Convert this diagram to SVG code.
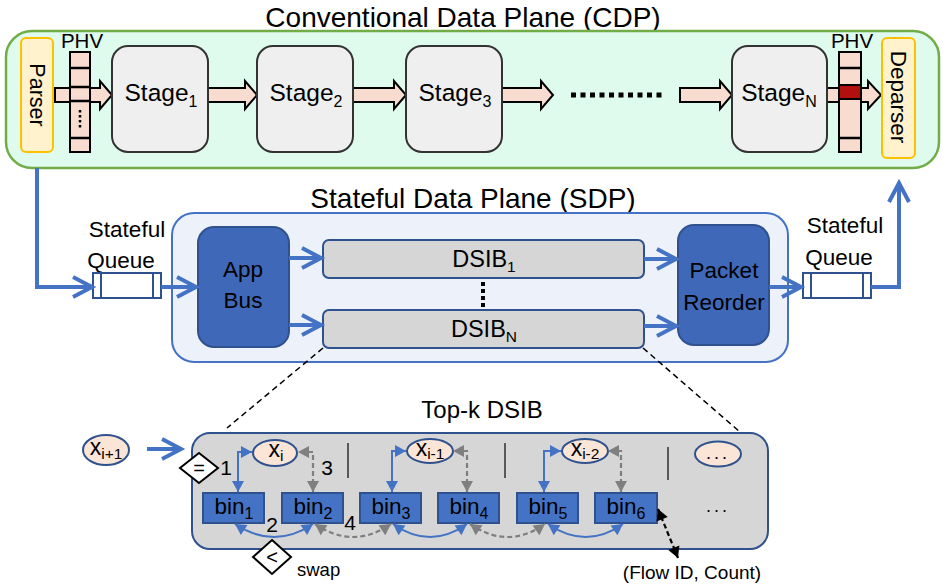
<svg xmlns="http://www.w3.org/2000/svg" width="950" height="586" viewBox="0 0 950 586">
<defs>
<style>
text{font-family:"Liberation Sans",Arial,sans-serif;fill:#000}
.title{font-size:28px;text-anchor:middle}
.stage{fill:#efefef;stroke:#333;stroke-width:2}
.stt{font-size:24.5px;text-anchor:middle}
.blk{fill:#f8dccf;stroke:#000;stroke-width:2;stroke-linejoin:miter}
.phv{fill:#f8dccf;stroke:#000;stroke-width:2}
.cell{stroke:#000;stroke-width:2.5}
.pars{fill:#fff2cc;stroke:#ffc000;stroke-width:2}
.big{fill:none;stroke:#4472c4;stroke-width:4}
.dark{fill:#4068b8;stroke:#2f528f;stroke-width:2}
.dsib{fill:#d6d6d6;stroke:#2f528f;stroke-width:2}
.queue{fill:#fff;stroke:#2f528f;stroke-width:2}
.lbl{font-size:22.5px;text-anchor:middle}
.bin{fill:#4472c4;stroke:#2f528f;stroke-width:2}
.ell{fill:#fbe5d6;stroke:#2f528f;stroke-width:2}
.bl{fill:none;stroke:#4472c4;stroke-width:2}
.gr{fill:none;stroke:#7f7f7f;stroke-width:2.2;stroke-dasharray:5 3}
.bk{fill:none;stroke:#000;stroke-width:2.2;stroke-dasharray:5 3}
.sep{stroke:#595959;stroke-width:2}
.dia{fill:#fff;stroke:#000;stroke-width:2}
.num{font-size:21px;text-anchor:middle}
.zoom{stroke:#000;stroke-width:1.5;stroke-dasharray:6 4;fill:none}
.bt{font-size:22.5px;text-anchor:middle}
.xt{font-size:23px;text-anchor:middle}
</style>
<marker id="chev" markerUnits="userSpaceOnUse" viewBox="-26 -14 30 28" refX="0" refY="0" markerWidth="30" markerHeight="28" orient="auto" overflow="visible">
<path d="M-19,-10 L0,0 L-19,10" fill="none" stroke="#4472c4" stroke-width="4"/>
</marker>
<marker id="tb" markerUnits="userSpaceOnUse" viewBox="-12 -7 14 14" refX="0" refY="0" markerWidth="14" markerHeight="14" orient="auto-start-reverse" overflow="visible">
<path d="M-11,-6 L0,0 L-11,6 Z" fill="#4472c4"/>
</marker>
<marker id="tg" markerUnits="userSpaceOnUse" viewBox="-12 -7 14 14" refX="0" refY="0" markerWidth="14" markerHeight="14" orient="auto-start-reverse" overflow="visible">
<path d="M-11,-6 L0,0 L-11,6 Z" fill="#7f7f7f"/>
</marker>
<marker id="tk" markerUnits="userSpaceOnUse" viewBox="-12 -7 14 14" refX="0" refY="0" markerWidth="14" markerHeight="14" orient="auto-start-reverse" overflow="visible">
<path d="M-11,-6 L0,0 L-11,6 Z" fill="#000"/>
</marker>
</defs>
<rect width="950" height="586" fill="#fff"/>

<!-- CDP -->
<g id="cdp">
<text class="title" x="463" y="27">Conventional Data Plane (CDP)</text>
<rect x="6" y="31" width="933" height="137" rx="26" fill="#dffbee" stroke="#70ad47" stroke-width="2.5"/>
</g>
<g id="parser">
<rect class="pars" x="21" y="38" width="32" height="114" rx="5"/>
<text transform="translate(37,95) rotate(90)" x="0" y="7.5" font-size="21.5" text-anchor="middle">Parser</text>
</g>
<g id="cdp-arrows">
<path class="blk" d="M55,88 H100 V81 L112,95 L100,109 V102 H55 Z"/>
<path class="blk" d="M208,88 H245 V81 L257,95 L245,109 V102 H208 Z"/>
<path class="blk" d="M353,88 H394 V81 L406,95 L394,109 V102 H353 Z"/>
<path class="blk" d="M502,88 H541 V81 L553,95 L541,109 V102 H502 Z"/>
<path class="blk" d="M680,88 H720 V81 L732,95 L720,109 V102 H680 Z"/>
<path class="blk" d="M827,88 H868 V81 L881,95 L868,109 V102 H827 Z"/>
<line x1="571" y1="95" x2="662" y2="95" stroke="#000" stroke-width="5" stroke-dasharray="5 4.5"/>
</g>
<g id="phv-in">
<text x="82" y="48" font-size="20.5" text-anchor="middle">PHV</text>
<rect class="phv" x="70" y="52" width="20" height="100"/>
<line class="cell" x1="70" y1="68" x2="90" y2="68"/>
<line class="cell" x1="70" y1="87" x2="90" y2="87"/>
<line class="cell" x1="70" y1="101" x2="90" y2="101"/>
<line class="cell" x1="70" y1="138" x2="90" y2="138"/>
<line x1="80" y1="110" x2="80" y2="130" stroke="#000" stroke-width="2.5" stroke-dasharray="2.5 2.5"/>
</g>
<g id="stage1">
<rect class="stage" x="112" y="46" width="96" height="106" rx="16"/>
<text class="stt" x="161" y="101">Stage<tspan font-size="16" dy="6">1</tspan></text>
</g>
<g id="stage2">
<rect class="stage" x="257" y="46" width="96" height="106" rx="16"/>
<text class="stt" x="306" y="101">Stage<tspan font-size="16" dy="6">2</tspan></text>
</g>
<g id="stage3">
<rect class="stage" x="406" y="46" width="96" height="106" rx="16"/>
<text class="stt" x="455" y="101">Stage<tspan font-size="16" dy="6">3</tspan></text>
</g>
<g id="stageN">
<rect class="stage" x="732" y="46" width="95" height="106" rx="16"/>
<text class="stt" x="779" y="101">Stage<tspan font-size="16" dy="6">N</tspan></text>
</g>
<g id="phv-out">
<text x="852" y="48" font-size="20.5" text-anchor="middle">PHV</text>
<rect class="phv" x="839" y="52" width="22" height="100"/>
<line class="cell" x1="839" y1="68" x2="861" y2="68"/>
<line class="cell" x1="839" y1="138" x2="861" y2="138"/>
<rect x="839" y="85" width="22" height="14" fill="#b30f0f" stroke="#000" stroke-width="2"/>
</g>
<g id="deparser">
<rect class="pars" x="882" y="38" width="33" height="120" rx="5"/>
<text transform="translate(898.5,97) rotate(90)" x="0" y="8" font-size="22.5" text-anchor="middle">Deparser</text>
</g>

<!-- SDP -->
<g id="sdp">
<text class="title" x="473" y="208">Stateful Data Plane (SDP)</text>
<rect x="172" y="213" width="616" height="149" rx="22" fill="#edf1f9" stroke="#4472c4" stroke-width="2"/>
</g>
<g id="queue-in">
<text class="lbl" x="127" y="237">Stateful</text>
<text class="lbl" x="121" y="268">Queue</text>
<rect class="queue" x="93" y="273" width="68" height="25"/>
<line x1="101" y1="273" x2="101" y2="298" stroke="#2f528f" stroke-width="2"/>
<line x1="153" y1="273" x2="153" y2="298" stroke="#2f528f" stroke-width="2"/>
</g>
<g id="appbus">
<rect class="dark" x="198" y="227" width="91" height="120" rx="16"/>
<text class="lbl" x="243" y="277">App</text>
<text class="lbl" x="243" y="308">Bus</text>
</g>
<g id="dsib1">
<rect class="dsib" x="323" y="240" width="321" height="38" rx="6"/>
<text x="484" y="267" font-size="23.5" text-anchor="middle">DSIB<tspan font-size="15.5" dy="5">1</tspan></text>
</g>
<g id="dsibN">
<rect class="dsib" x="323" y="310" width="321" height="38" rx="6"/>
<text x="484" y="337" font-size="23.5" text-anchor="middle">DSIB<tspan font-size="15.5" dy="5">N</tspan></text>
</g>
<line x1="483" y1="282" x2="483" y2="308" stroke="#000" stroke-width="4" stroke-dasharray="4 3"/>
<g id="reorder">
<rect class="dark" x="678" y="225" width="91" height="120" rx="16"/>
<text class="lbl" x="724" y="278">Packet</text>
<text class="lbl" x="724" y="310">Reorder</text>
</g>
<g id="queue-out">
<text class="lbl" x="845" y="233">Stateful</text>
<text class="lbl" x="839" y="265">Queue</text>
<rect class="queue" x="803" y="273" width="68" height="25"/>
<line x1="811" y1="273" x2="811" y2="298" stroke="#2f528f" stroke-width="2"/>
<line x1="863" y1="273" x2="863" y2="298" stroke="#2f528f" stroke-width="2"/>
</g>

<!-- Top-k DSIB -->
<g id="topk">
<text x="482" y="418" font-size="24" text-anchor="middle">Top-k DSIB</text>
<rect x="192" y="433" width="576" height="116" rx="18" fill="#d6d6d6" stroke="#2f528f" stroke-width="2"/>
<line class="sep" x1="348" y1="443" x2="348" y2="478"/>
<line class="sep" x1="505" y1="443" x2="505" y2="478"/>
<line class="sep" x1="668" y1="447" x2="668" y2="480"/>
<text x="718" y="512" font-size="18" text-anchor="middle" letter-spacing="3">...</text>
</g>
<g id="xi1">
<ellipse class="ell" cx="106" cy="450" rx="23" ry="15"/>
<text class="xt" x="106" y="455">x<tspan font-size="15.5" dy="4">i+1</tspan></text>
</g>
<g id="xi">
<ellipse class="ell" cx="275" cy="453" rx="22" ry="13"/>
<text class="xt" x="276" y="457">x<tspan font-size="15.5" dy="4">i</tspan></text>
</g>
<g id="xim1">
<ellipse class="ell" cx="430" cy="451" rx="23" ry="12"/>
<text class="xt" x="430" y="456">x<tspan font-size="15.5" dy="3">i-1</tspan></text>
</g>
<g id="xim2">
<ellipse class="ell" cx="585" cy="451" rx="23" ry="12"/>
<text class="xt" x="585" y="456">x<tspan font-size="15.5" dy="3">i-2</tspan></text>
</g>
<g id="xmore">
<ellipse class="ell" cx="718" cy="454" rx="23" ry="12.5"/>
<text x="718" y="459" font-size="18" text-anchor="middle" letter-spacing="3">...</text>
</g>
<g id="bin1"><rect class="bin" x="203" y="493" width="61" height="30"/><text class="bt" x="234" y="514">bin<tspan font-size="16" dy="5">1</tspan></text></g>
<g id="bin2"><rect class="bin" x="282" y="493" width="61" height="30"/><text class="bt" x="313" y="514">bin<tspan font-size="16" dy="5">2</tspan></text></g>
<g id="bin3"><rect class="bin" x="360" y="493" width="61" height="30"/><text class="bt" x="391" y="514">bin<tspan font-size="16" dy="5">3</tspan></text></g>
<g id="bin4"><rect class="bin" x="438" y="493" width="61" height="30"/><text class="bt" x="469" y="514">bin<tspan font-size="16" dy="5">4</tspan></text></g>
<g id="bin5"><rect class="bin" x="517" y="493" width="61" height="30"/><text class="bt" x="548" y="514">bin<tspan font-size="16" dy="5">5</tspan></text></g>
<g id="bin6"><rect class="bin" x="595" y="493" width="62" height="30"/><text class="bt" x="626" y="514">bin<tspan font-size="16" dy="5">6</tspan></text></g>
<g id="eq">
<path class="dia" d="M199,453 L218,468 L199,483 L180,468 Z"/>
<text x="199" y="475" font-size="20" text-anchor="middle">=</text>
</g>
<g id="lt">
<path class="dia" d="M272,540 L291,557 L272,574 L253,557 Z"/>
<text x="272" y="564" font-size="20" text-anchor="middle">&lt;</text>
</g>
<text x="297" y="576" font-size="18.5">swap</text>
<text x="692" y="579" font-size="19" text-anchor="middle">(Flow ID, Count)</text>
<text class="num" x="226" y="475">1</text>
<text class="num" x="272" y="532">2</text>
<text class="num" x="327" y="475">3</text>
<text class="num" x="350" y="530">4</text>

<!-- connectors -->
<g id="connectors">
<path class="big" d="M37,168 V287 H92" marker-end="url(#chev)"/>
<path class="big" d="M161,287 H196" marker-end="url(#chev)"/>
<path class="big" d="M289,258 H321" marker-end="url(#chev)"/>
<path class="big" d="M289,325 H321" marker-end="url(#chev)"/>
<path class="big" d="M644,259 H676" marker-end="url(#chev)"/>
<path class="big" d="M644,326 H676" marker-end="url(#chev)"/>
<path class="big" d="M769,287 H801" marker-end="url(#chev)"/>
<path class="big" d="M871,287 H899 V183" marker-end="url(#chev)"/>
<path class="big" d="M147,449 H181" marker-end="url(#chev)"/>
<line class="zoom" x1="323" y1="348" x2="227" y2="428"/>
<line class="zoom" x1="643" y1="348" x2="740" y2="432"/>
<path class="bl" d="M238,492 V452 H252" marker-start="url(#tb)" marker-end="url(#tb)"/>
<path class="gr" d="M313,492 V452 H298" marker-start="url(#tg)" marker-end="url(#tg)"/>
<path class="bl" d="M392,492 V451 H406" marker-start="url(#tb)" marker-end="url(#tb)"/>
<path class="gr" d="M467,492 V451 H453" marker-start="url(#tg)" marker-end="url(#tg)"/>
<path class="bl" d="M544,492 V451 H561" marker-start="url(#tb)" marker-end="url(#tb)"/>
<path class="gr" d="M621,492 V451 H608" marker-start="url(#tg)" marker-end="url(#tg)"/>
<path class="bl" d="M235,524 Q274,550 313,524" marker-start="url(#tb)" marker-end="url(#tb)"/>
<path class="gr" d="M315,524 Q353,550 391,524" marker-start="url(#tg)" marker-end="url(#tg)"/>
<path class="bl" d="M393,524 Q430,550 467,524" marker-start="url(#tb)" marker-end="url(#tb)"/>
<path class="gr" d="M470,524 Q508,550 545,524" marker-start="url(#tg)" marker-end="url(#tg)"/>
<path class="bl" d="M548,524 Q586,550 623,524" marker-start="url(#tb)" marker-end="url(#tb)"/>
<path class="bk" d="M658,509 L678,558" marker-start="url(#tk)" marker-end="url(#tk)"/>
</g>
</svg>
